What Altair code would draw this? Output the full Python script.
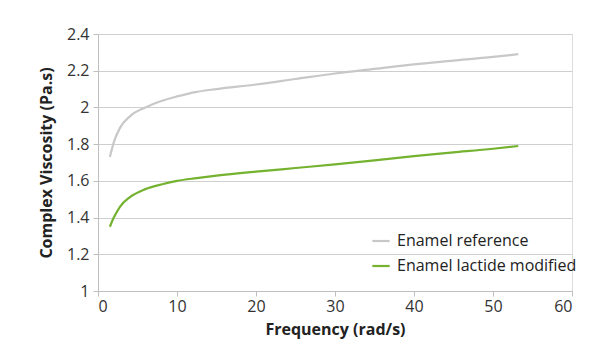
import altair as alt
import pandas as pd

freq = [1.5, 2.0, 2.8, 4.0, 6.0, 8.0, 10.0, 12.5, 15.0, 20.0, 25.0, 30.0, 35.0, 40.0, 45.0, 50.0, 53.2]
ref_vals = [1.73, 1.81, 1.89, 1.95, 2.00, 2.035, 2.06, 2.085, 2.10, 2.125, 2.155, 2.185, 2.21, 2.235, 2.255, 2.275, 2.29]
lac_vals = [1.35, 1.40, 1.46, 1.51, 1.555, 1.58, 1.60, 1.615, 1.628, 1.65, 1.67, 1.69, 1.712, 1.735, 1.755, 1.775, 1.79]
series = ["Enamel reference", "Enamel lactide modified"]
colors = ["#c8c8c8", "#74b230"]

rows = []
for f, v in zip(freq, ref_vals):
    rows.append({"f": f, "v": v, "s": series[0]})
for f, v in zip(freq, lac_vals):
    rows.append({"f": f, "v": v, "s": series[1]})
df = pd.DataFrame(rows)

font = "Open Sans"
chart = alt.Chart(df).mark_line(strokeWidth=2.2, interpolate="monotone").encode(
    x=alt.X("f:Q", title="Frequency (rad/s)",
            scale=alt.Scale(domain=[0, 60], nice=False),
            axis=alt.Axis(values=[0, 10, 20, 30, 40, 50, 60], grid=False, tickSize=5,
                          domainColor="#bfbfbf", tickColor="#bfbfbf", format="d",
                          labelFontSize=16, titleFontSize=16, titleFontWeight="bold",
                          labelColor="#333333", titleColor="#222222", labelPadding=2, titlePadding=7)),
    y=alt.Y("v:Q", title="Complex Viscosity (Pa.s)",
            scale=alt.Scale(domain=[1, 2.4], nice=False, zero=False),
            axis=alt.Axis(values=[1, 1.2, 1.4, 1.6, 1.8, 2, 2.2, 2.4], grid=True, gridColor="#cfcfcf",
                          tickSize=5, domainColor="#bfbfbf", tickColor="#bfbfbf", format="~g",
                          labelFontSize=16, titleFontSize=16, titleFontWeight="bold",
                          labelColor="#333333", titleColor="#222222", labelPadding=4, titlePadding=12)),
    color=alt.Color("s:N", scale=alt.Scale(domain=series, range=colors), sort=series,
                    legend=alt.Legend(title=None, orient="none", legendX=273, legendY=197,
                                      symbolType="stroke", symbolStrokeWidth=2.2, symbolSize=300,
                                      labelFontSize=16, labelColor="#222222", rowPadding=7,
                                      labelFont=font, labelOffset=6, labelLimit=400)),
).properties(
    width=474, height=257,
    autosize=alt.AutoSizeParams(type="none"),
    padding={"left": 98, "top": 34, "right": 43, "bottom": 59},
).configure_view(stroke=None).configure(font=font).configure_axis(labelFont=font, titleFont=font)

chart.save("out.html", embed_options={"renderer": "svg", "actions": False})
